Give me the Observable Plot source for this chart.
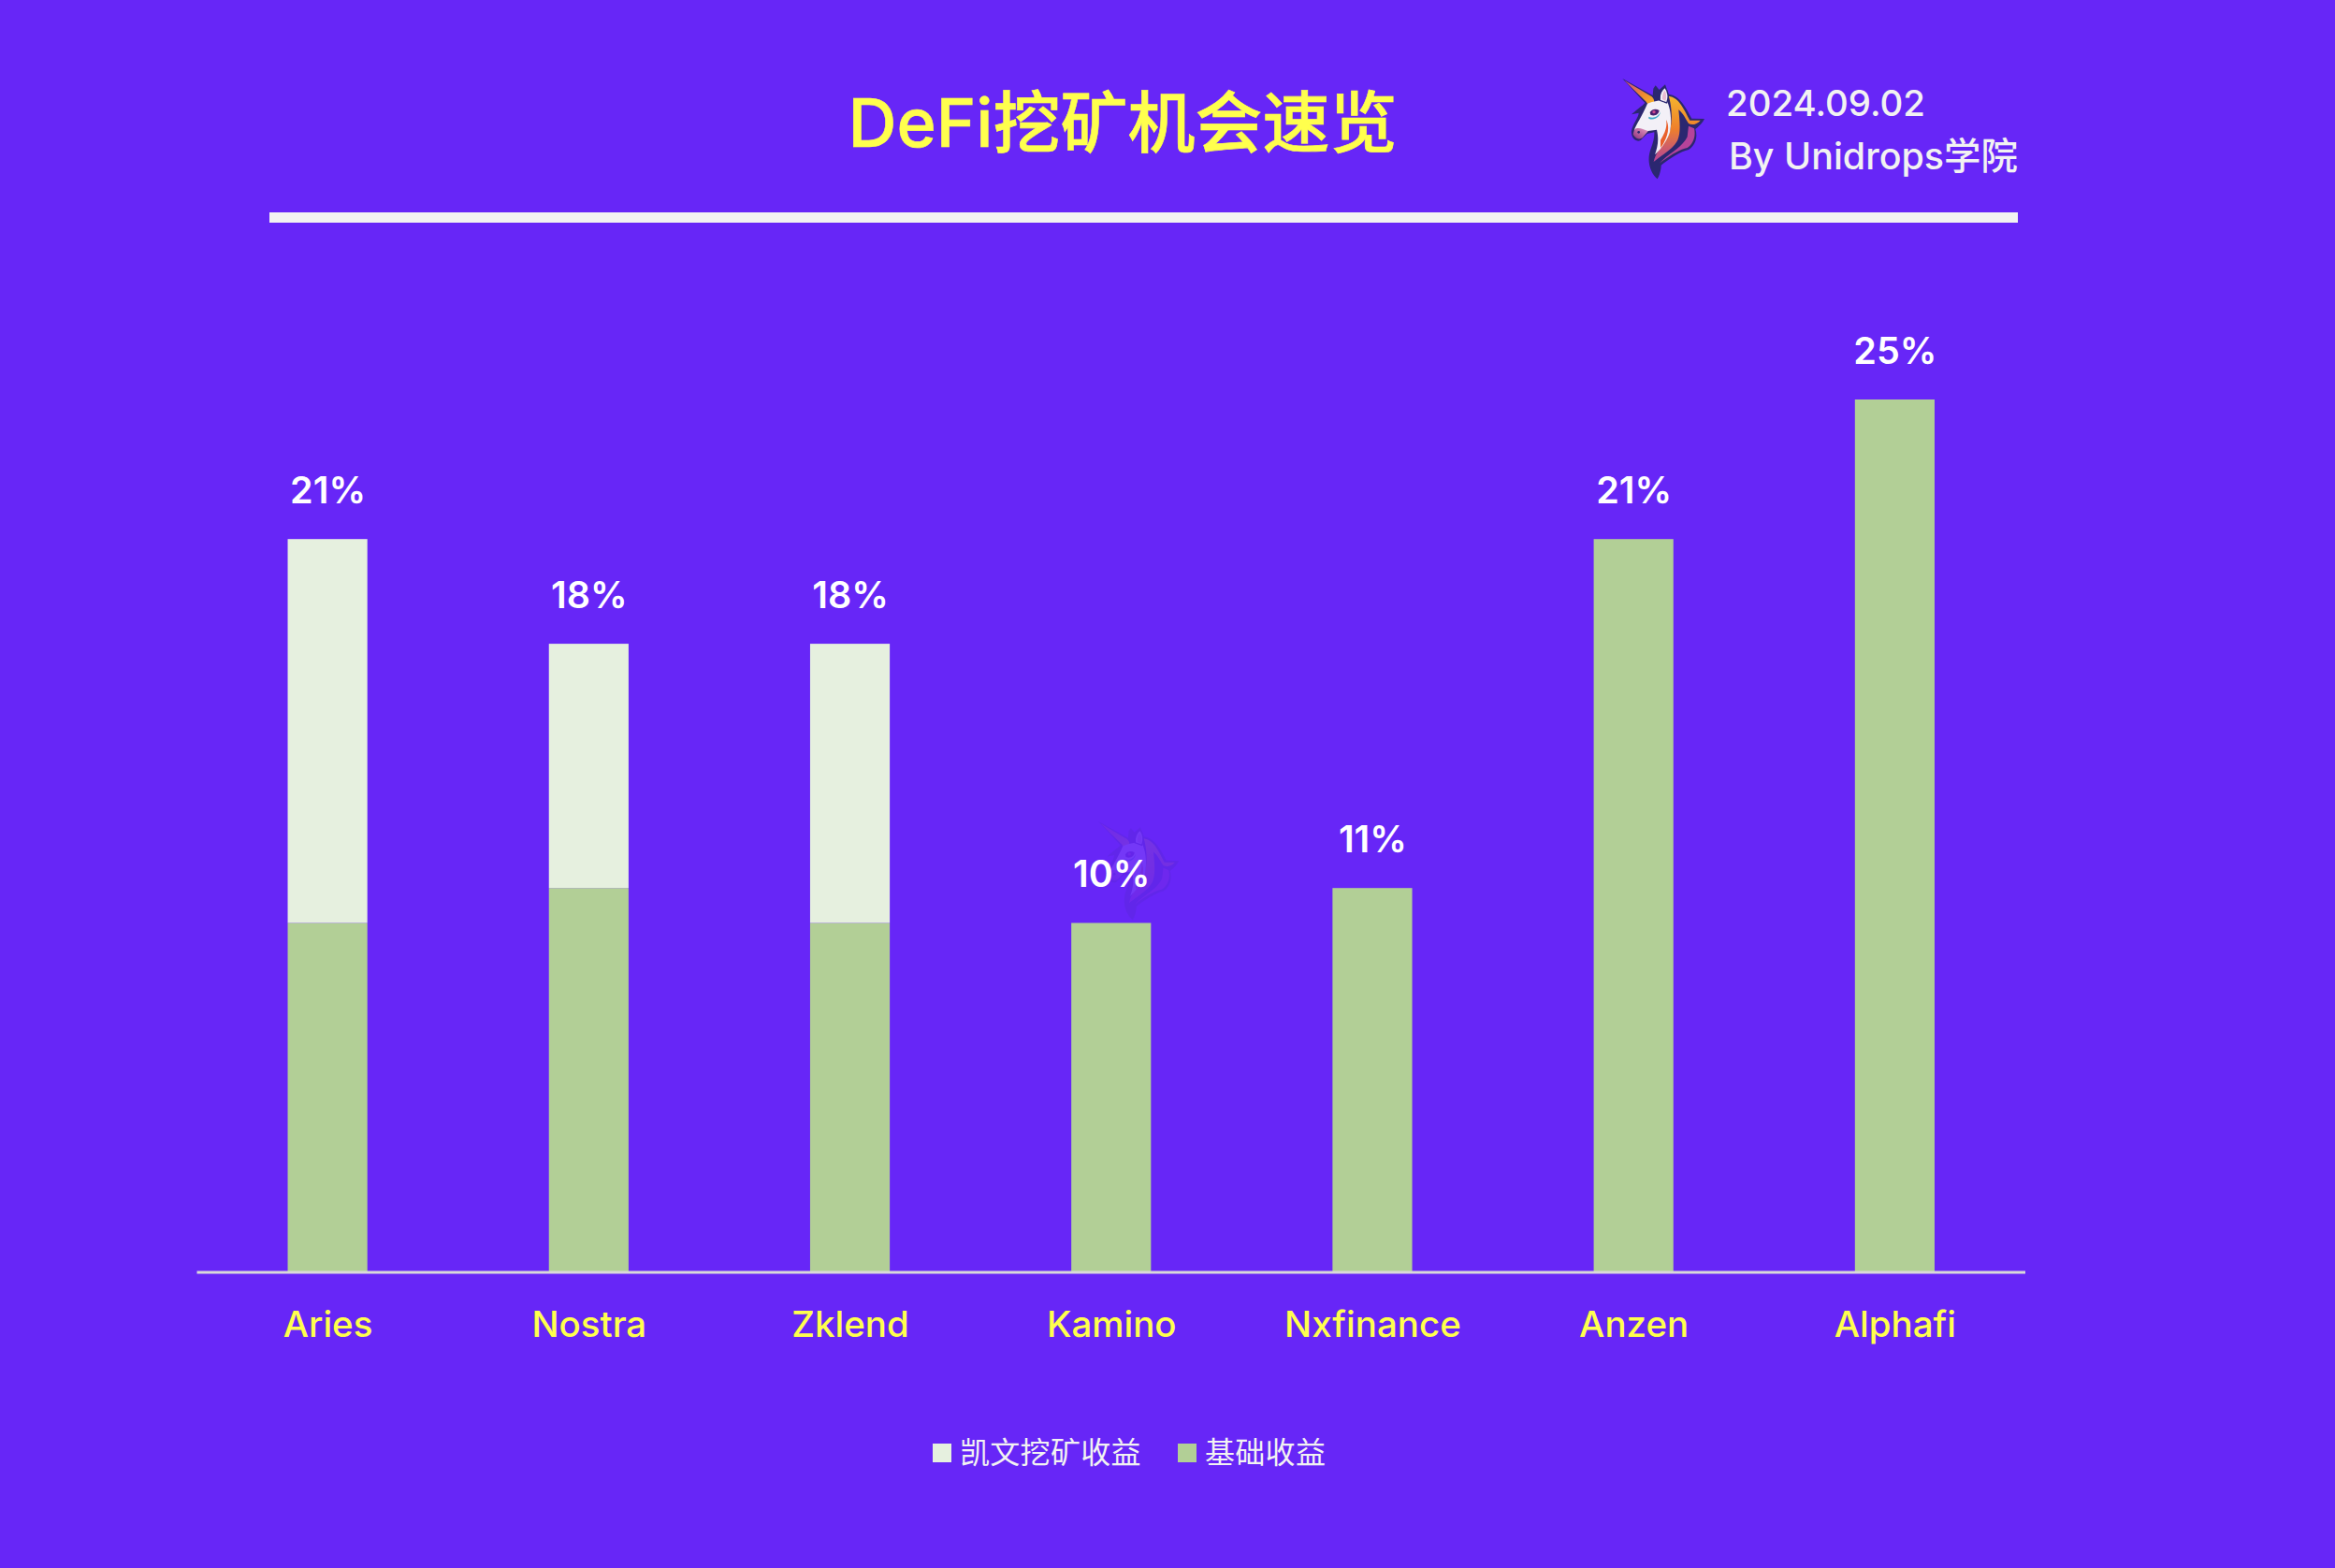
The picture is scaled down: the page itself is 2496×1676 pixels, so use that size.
<!DOCTYPE html>
<html lang="zh">
<head>
<meta charset="utf-8">
<title>DeFi挖矿机会速览</title>
<script src="https://cdn.jsdelivr.net/npm/d3@7"></script>
<script src="https://cdn.jsdelivr.net/npm/@observablehq/plot@0.6"></script>
<style>
  html, body { margin:0; padding:0; background:#6726F7; overflow:hidden; }
  #root { position:relative; width:2496px; height:1676px; background:#6726F7; font-family:Inter,"Noto Sans CJK SC",sans-serif; }
  #head { position:relative; height:260px; }
  #title { position:absolute; left:0; top:88px; width:2400px; text-align:center; font:500 72px/86px Inter,"Noto Sans CJK SC",sans-serif; color:#FFFF4D; white-space:nowrap; -webkit-text-stroke:.6px #FFFF4D; }
  .meta { position:absolute; color:#F2F2F2; font-weight:500; line-height:48px; white-space:nowrap; }
  #rule { position:absolute; left:288px; top:227px; width:1869px; height:11px; background:#F2F2F2; }
  .logo { position:absolute; }
  #chart { position:relative; height:1240px; }
  #chart svg { position:relative; display:block; }
  #legend { position:relative; height:176px; }
  .sw { position:absolute; width:20px; height:20px; top:43px; }
  .lg { position:absolute; top:29px; color:#F2F2F2; font:400 32px/42px "Noto Sans CJK SC",sans-serif; letter-spacing:.3px; white-space:nowrap; }
</style>
</head>
<body>
<svg width="0" height="0" style="position:absolute">
  <defs>
    <linearGradient id="mane" x1="0" y1="0" x2="0" y2="1">
      <stop offset="0" stop-color="#F5B52E"/><stop offset=".5" stop-color="#EE7F2B"/><stop offset="1" stop-color="#B5439A"/>
    </linearGradient>
    <linearGradient id="horn" x1="0" y1="0" x2="1" y2="1">
      <stop offset="0" stop-color="#C8478E"/><stop offset=".6" stop-color="#EE8A2D"/><stop offset="1" stop-color="#F5B52E"/>
    </linearGradient>
    <linearGradient id="nose" x1="1" y1="0" x2="0" y2="1">
      <stop offset="0" stop-color="#E59BC0"/><stop offset="1" stop-color="#8E2F7E"/>
    </linearGradient>
    <symbol id="unicorn" viewBox="0 0 315 345">
      <path fill="#2B2770" d="M28,18 L125,72 L127,50 L134,40 L146,54 L165,37 L176,68 C212,72 232,112 250,146 L291,147 C282,165 268,175 262,180 C270,205 262,232 240,246 C212,252 172,280 152,296 C152,312 146,330 140,340 C118,322 103,282 120,240 C126,224 131,206 130,190 L107,195 L86,216 C70,224 54,206 57,185 C60,165 80,142 80,128 L57,133 C68,122 84,110 92,104 L100,96 Z"/>
      <path fill="url(#horn)" d="M34,24 L122,76 C130,84 132,92 126,102 C118,106 108,100 104,92 Z"/>
      <path fill="url(#mane)" d="M176,74 C210,78 226,118 244,152 L278,152 C266,166 250,168 240,162 C232,150 222,128 208,118 C212,160 215,190 205,215 C190,245 155,262 128,285 C135,250 165,225 180,185 C190,150 185,100 176,74 Z"/>
      <path fill="#B5439A" d="M240,170 L258,178 C264,205 254,228 236,240 C210,245 175,268 146,290 C170,262 220,240 236,205 Z"/>
      <path fill="#F3F0F7" d="M108,98 C128,90 150,88 168,84 C182,110 188,150 180,190 C170,220 150,245 132,262 C140,240 146,215 138,182 L110,186 L95,200 C84,190 72,188 66,182 C72,165 90,140 108,98 Z"/>
      <path fill="url(#nose)" d="M66,182 C78,172 92,180 110,186 L92,208 C80,216 66,208 62,196 Z"/>
      <path fill="#E9602C" d="M150,215 C166,190 172,170 168,150 C180,170 176,205 150,240 Z"/>
      <path fill="#F3F0F7" stroke="#2B2770" stroke-width="4" d="M148,88 C146,70 152,55 164,46 C174,58 178,78 170,96 Z"/>
      <path fill="#E7BBD2" d="M156,84 C155,72 158,62 164,56 C169,66 170,78 166,90 Z"/>
      <path fill="#4A1F6E" d="M116,126 C124,114 136,114 146,120 C144,134 130,140 118,134 Z"/>
      <path fill="#3FA7C9" d="M112,140 C126,148 144,140 150,124 C148,142 130,154 112,146 Z"/>
      <circle cx="129" cy="125" r="5" fill="#C8478E"/>
      <circle cx="80" cy="190" r="4" fill="#2B2770"/>
    </symbol>
  </defs>
</svg>
<div id="root">
  <svg class="logo" style="left:1165px;top:872px;opacity:.09" width="103" height="113"><use href="#unicorn"/></svg>
  <div id="head">
    <div id="title">DeFi挖矿机会速览</div>
    <svg class="logo" style="left:1725px;top:78px" width="105" height="115"><use href="#unicorn"/></svg>
    <div class="meta" style="left:1845px;top:86px;font-size:38.4px">2024.09.02</div>
    <div class="meta" style="left:1848px;top:143px;font-size:39.4px">By Unidrops学院</div>
    <div id="rule"></div>
  </div>
  <div id="chart"></div>
  <div id="legend">
    <div class="sw" style="left:997px;background:#E6F0DF"></div>
    <div class="lg" style="left:1026px">凯文挖矿收益</div>
    <div class="sw" style="left:1259px;background:#B2CF96"></div>
    <div class="lg" style="left:1288px">基础收益</div>
  </div>
</div>
<script>
const platforms = ["Aries","Nostra","Zklend","Kamino","Nxfinance","Anzen","Alphafi"];
const baseYield = [10,11,10,10,11,21,25];
const miningYield = [11,7,8,0,0,0,0];
const seriesNames = ["基础收益","凯文挖矿收益"];
const seriesColors = ["#B2CF96","#E6F0DF"];

const rows = platforms.flatMap((p,i)=>[
  {platform:p, series:seriesNames[0], value:baseYield[i]},
  {platform:p, series:seriesNames[1], value:miningYield[i]}
]);
const totals = platforms.map((p,i)=>({platform:p, total:baseYield[i]+miningYield[i]}));

const chart = Plot.plot({
  width:2496, height:1240,
  marginLeft:210.5, marginRight:331, marginTop:167, marginBottom:140.5,
  style:{background:"transparent", fontFamily:'Inter,"Noto Sans CJK SC",sans-serif', overflow:"visible"},
  x:{domain:platforms, paddingInner:0.695, paddingOuter:0.3475, round:false, label:null},
  y:{domain:[0,25], axis:null},
  color:{domain:seriesNames, range:seriesColors},
  marks:[
    Plot.barY(rows,{x:"platform", y:"value", fill:"series", order:seriesNames}),
    Plot.ruleY([0],{stroke:"#D9D9D9", strokeWidth:3}),
    Plot.text(totals,{x:"platform", y:"total", text:d=>`${d.total}%`, dy:-51.5, fill:"#FFFFFF", fontSize:39.5, fontWeight:600}),
    Plot.axisX({tickSize:0, tickPadding:42, fontSize:38.5, fontWeight:500, fill:"#FFFF4D", label:null, lineAnchor:"top"})
  ]
});
document.getElementById("chart").appendChild(chart);
</script>
</body>
</html>
